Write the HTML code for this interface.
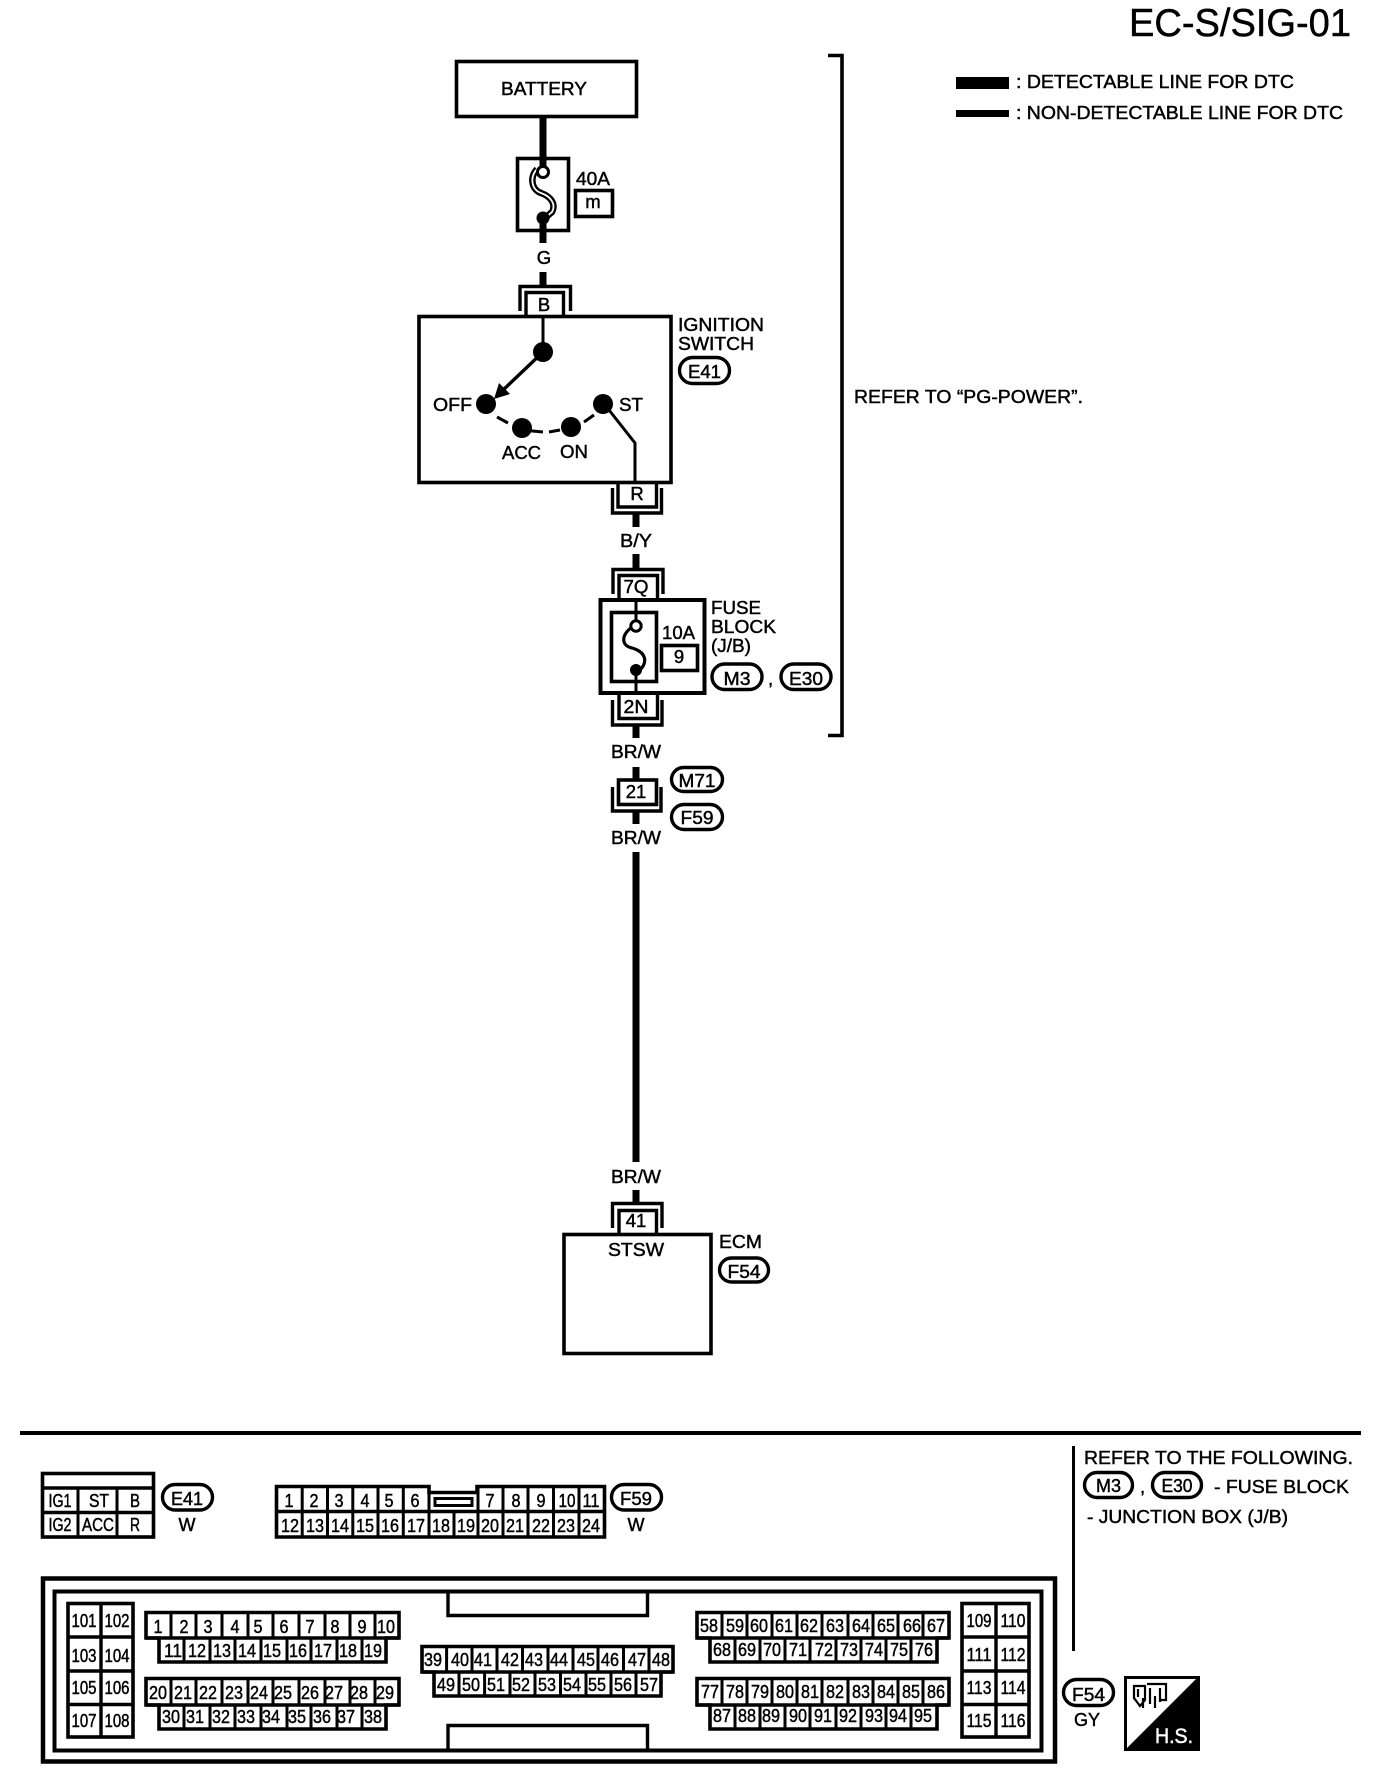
<!DOCTYPE html>
<html><head><meta charset="utf-8"><title>EC-S/SIG-01</title>
<style>
html,body{margin:0;padding:0;background:#fff}
svg{display:block}
text{font-family:"Liberation Sans",Arial,sans-serif;fill:#000;stroke:#000;stroke-width:.45px}
.t{font-size:18.5px}
.m{font-size:18.5px;text-anchor:middle}
.n{font-size:18px;text-anchor:middle}
.s{fill:none;stroke:#000;stroke-width:3.6}
.w{fill:none;stroke:#000;stroke-width:7}
.c{fill:none;stroke:#000;stroke-width:3}
.g{fill:none;stroke:#000;stroke-width:3.4}
.p{fill:#fff;stroke:#000;stroke-width:3.4}
.v{fill:none;stroke:#000;stroke-width:3}
</style></head><body>
<svg width="1392" height="1784" viewBox="0 0 1392 1784" xmlns="http://www.w3.org/2000/svg">
<rect width="1392" height="1784" fill="#fff"/>

<!-- title and legend -->
<text x="1129" y="36" font-size="38.5" textLength="222" lengthAdjust="spacingAndGlyphs">EC-S/SIG-01</text>
<rect x="956" y="77" width="53" height="12" fill="#000"/>
<rect x="956" y="110" width="53" height="7" fill="#000"/>
<text class="t" x="1016" y="88" textLength="278" lengthAdjust="spacingAndGlyphs">: DETECTABLE LINE FOR DTC</text>
<text class="t" x="1016" y="119" textLength="327" lengthAdjust="spacingAndGlyphs">: NON-DETECTABLE LINE FOR DTC</text>

<!-- bracket -->
<path class="s" d="M828,55.500H842V735.500H828"/>
<text class="t" x="854" y="403" textLength="229" lengthAdjust="spacingAndGlyphs">REFER TO “PG-POWER”.</text>

<!-- battery -->
<rect class="s" x="456.500" y="61.500" width="180" height="55"/>
<text class="m" x="544" y="95" textLength="86" lengthAdjust="spacingAndGlyphs">BATTERY</text>
<path class="w" d="M543,117V166M543,222V243M543,272V285"/>

<!-- fuse 40A -->
<rect class="s" x="517.500" y="158.500" width="51" height="72"/>
<path d="M537,169C529,178 532,190 541,193C552,197 556,205 552,212L545,218" fill="none" stroke="#000" stroke-width="6.500"/>
<path d="M537,169C529,178 532,190 541,193C552,197 556,205 552,212L545,218" fill="none" stroke="#fff" stroke-width="1.800"/>
<circle cx="543" cy="172" r="5.500" fill="#fff" stroke="#000" stroke-width="3"/>
<circle cx="543" cy="218" r="6.500" fill="#000"/>
<text class="t" x="576" y="185" textLength="34" lengthAdjust="spacingAndGlyphs">40A</text>
<rect class="s" x="575.500" y="190.500" width="37" height="26"/>
<text class="m" x="593" y="208">m</text>
<text class="m" x="544" y="264">G</text>

<!-- connector B -->
<path class="g" d="M520,311V286.500H570.500V311"/>
<path class="g" d="M526,316V292.500H563.500V316"/>
<text class="m" x="544" y="311">B</text>

<!-- ignition switch -->
<rect class="s" x="419" y="316.500" width="252" height="166"/>
<path class="c" d="M543,316V352"/>
<path d="M543,352L502,391" stroke="#000" stroke-width="3.400"/>
<polygon points="494,399 499,383 510,394" fill="#000"/>
<circle cx="543" cy="352" r="10" fill="#000"/>
<circle cx="486" cy="404" r="10" fill="#000"/>
<circle cx="522" cy="428" r="10" fill="#000"/>
<circle cx="571" cy="427" r="10" fill="#000"/>
<circle cx="603" cy="404" r="10" fill="#000"/>
<path d="M497,417L508,423M522,430L543,432M549,432L560,430M584,422L594,415" stroke="#000" stroke-width="3" fill="none"/>
<path class="c" d="M609,410L635,443V483"/>
<text class="t" x="433" y="411" textLength="39" lengthAdjust="spacingAndGlyphs">OFF</text>
<text class="t" x="619" y="411" textLength="24" lengthAdjust="spacingAndGlyphs">ST</text>
<text class="t" x="502" y="459" textLength="39" lengthAdjust="spacingAndGlyphs">ACC</text>
<text class="t" x="560" y="458" textLength="28" lengthAdjust="spacingAndGlyphs">ON</text>
<text class="t" x="678" y="331" textLength="86" lengthAdjust="spacingAndGlyphs">IGNITION</text>
<text class="t" x="678" y="350" textLength="76" lengthAdjust="spacingAndGlyphs">SWITCH</text>
<rect class="p" x="679.500" y="357.500" width="50" height="26" rx="13"/>
<text class="m" x="704.500" y="378" textLength="33" lengthAdjust="spacingAndGlyphs">E41</text>

<!-- connector R -->
<path class="g" d="M618,483V507H656.500V483"/>
<path class="g" d="M612.500,488V513H661.500V488"/>
<text class="m" x="637" y="500">R</text>
<path class="w" d="M636,514V527M636,554V568"/>
<text class="m" x="636" y="547" textLength="32" lengthAdjust="spacingAndGlyphs">B/Y</text>

<!-- 7Q connector -->
<path class="g" d="M613,594V569.500H663V594"/>
<path class="g" d="M619,599V575.500H657.500V599"/>
<text class="m" x="636" y="593" textLength="25" lengthAdjust="spacingAndGlyphs">7Q</text>

<!-- fuse block -->
<rect x="600.500" y="600" width="104" height="93" fill="none" stroke="#000" stroke-width="4"/>
<rect class="s" x="611.500" y="612.500" width="45" height="69"/>
<path class="c" d="M636,599V621M636,670V694"/>
<path d="M632,627C620,636 622,646 632,648C646,652 648,662 640,670" fill="none" stroke="#000" stroke-width="3.200"/>
<circle cx="636" cy="626" r="5.200" fill="#fff" stroke="#000" stroke-width="3"/>
<circle cx="636" cy="670" r="6" fill="#000"/>
<text class="t" x="662" y="639" textLength="33" lengthAdjust="spacingAndGlyphs">10A</text>
<rect class="s" x="661.500" y="645.500" width="36" height="25"/>
<text class="m" x="679" y="663">9</text>
<text class="t" x="711" y="614" textLength="50" lengthAdjust="spacingAndGlyphs">FUSE</text>
<text class="t" x="711" y="633" textLength="65" lengthAdjust="spacingAndGlyphs">BLOCK</text>
<text class="t" x="711" y="652" textLength="40" lengthAdjust="spacingAndGlyphs">(J/B)</text>
<rect class="p" x="712" y="664" width="50" height="25.500" rx="12.700"/>
<text class="m" x="737" y="685" textLength="27" lengthAdjust="spacingAndGlyphs">M3</text>
<text class="t" x="768" y="685">,</text>
<rect class="p" x="781" y="664" width="50" height="25.500" rx="12.700"/>
<text class="m" x="806" y="685" textLength="34" lengthAdjust="spacingAndGlyphs">E30</text>

<!-- 2N connector -->
<path class="g" d="M619,694V718.500H657.500V694"/>
<path class="g" d="M612.500,700V725H662V700"/>
<text class="m" x="636" y="713" textLength="25" lengthAdjust="spacingAndGlyphs">2N</text>
<path class="w" d="M636,726V738M636,767V779"/>
<text class="m" x="636" y="758" textLength="50" lengthAdjust="spacingAndGlyphs">BR/W</text>

<!-- connector 21 -->
<rect class="s" x="618.500" y="780" width="38" height="24.500"/>
<path class="g" d="M612.500,787V811H661V787"/>
<text class="m" x="636" y="798">21</text>
<path class="w" d="M636,812V824M636,852V1162M636,1190V1202"/>
<rect class="p" x="671.500" y="767.500" width="51" height="24" rx="12"/>
<text class="m" x="697" y="787" textLength="37" lengthAdjust="spacingAndGlyphs">M71</text>
<rect class="p" x="671.500" y="804.500" width="51" height="25" rx="12.500"/>
<text class="m" x="697" y="824" textLength="33" lengthAdjust="spacingAndGlyphs">F59</text>
<text class="m" x="636" y="844" textLength="50" lengthAdjust="spacingAndGlyphs">BR/W</text>
<text class="m" x="636" y="1183" textLength="50" lengthAdjust="spacingAndGlyphs">BR/W</text>

<!-- ECM -->
<path class="g" d="M612.500,1228V1203.500H662V1228"/>
<path class="g" d="M619,1234V1210.500H656.500V1234"/>
<text class="m" x="636" y="1227">41</text>
<rect class="s" x="564" y="1234.500" width="147" height="119"/>
<text class="m" x="636" y="1256" textLength="56" lengthAdjust="spacingAndGlyphs">STSW</text>
<text class="t" x="719" y="1248" textLength="43" lengthAdjust="spacingAndGlyphs">ECM</text>
<rect class="p" x="719.500" y="1258" width="49" height="24" rx="12"/>
<text class="m" x="744" y="1278" textLength="33" lengthAdjust="spacingAndGlyphs">F54</text>

<!-- separator -->
<rect x="20" y="1431" width="1341" height="4" fill="#000"/>

<!-- E41 connector -->
<rect class="s" x="42.500" y="1473.500" width="111" height="63.500"/>
<path class="g" d="M42,1488H154M42,1512.500H154"/>
<path class="v" d="M78,1488V1537M117,1488V1537"/>
<g>
<text class="n" x="60" y="1507" textLength="23" lengthAdjust="spacingAndGlyphs">IG1</text>
<text class="n" x="99" y="1507" textLength="20" lengthAdjust="spacingAndGlyphs">ST</text>
<text class="n" x="135" y="1507" textLength="10" lengthAdjust="spacingAndGlyphs">B</text>
<text class="n" x="60" y="1531" textLength="23" lengthAdjust="spacingAndGlyphs">IG2</text>
<text class="n" x="98" y="1531" textLength="32" lengthAdjust="spacingAndGlyphs">ACC</text>
<text class="n" x="135" y="1531" textLength="10" lengthAdjust="spacingAndGlyphs">R</text>
</g>
<rect class="p" x="162.500" y="1484.500" width="50" height="25.500" rx="12.700"/>
<text class="m" x="187" y="1505" textLength="32" lengthAdjust="spacingAndGlyphs">E41</text>
<text class="m" x="187" y="1531" textLength="17" lengthAdjust="spacingAndGlyphs">W</text>

<!-- F59 connector -->
<path class="s" d="M276.500,1486.500H429V1492.500H477V1486.500H604.500V1537H276.500Z"/>
<path class="g" d="M276,1511.500H605"/>
<rect x="435" y="1498.500" width="37" height="7" fill="none" stroke="#000" stroke-width="3"/>
<path class="v" d="M302.200,1486V1537M327.500,1486V1537M352.800,1486V1537M378,1486V1537M403.300,1486V1537M429,1486V1537M454,1511V1537M478,1486V1537M503,1486V1537M528,1486V1537M553.500,1486V1537M579,1486V1537"/>
<g>
<text class="n" x="289" y="1507" textLength="9" lengthAdjust="spacingAndGlyphs">1</text>
<text class="n" x="314" y="1507" textLength="9" lengthAdjust="spacingAndGlyphs">2</text>
<text class="n" x="339" y="1507" textLength="9" lengthAdjust="spacingAndGlyphs">3</text>
<text class="n" x="365" y="1507" textLength="9" lengthAdjust="spacingAndGlyphs">4</text>
<text class="n" x="389" y="1507" textLength="9" lengthAdjust="spacingAndGlyphs">5</text>
<text class="n" x="415" y="1507" textLength="9" lengthAdjust="spacingAndGlyphs">6</text>
<text class="n" x="490" y="1507" textLength="9" lengthAdjust="spacingAndGlyphs">7</text>
<text class="n" x="516" y="1507" textLength="9" lengthAdjust="spacingAndGlyphs">8</text>
<text class="n" x="541" y="1507" textLength="9" lengthAdjust="spacingAndGlyphs">9</text>
<text class="n" x="567" y="1507" textLength="17" lengthAdjust="spacingAndGlyphs">10</text>
<text class="n" x="591" y="1507" textLength="17" lengthAdjust="spacingAndGlyphs">11</text>
<text class="n" x="290" y="1532" textLength="18" lengthAdjust="spacingAndGlyphs">12</text>
<text class="n" x="315" y="1532" textLength="18" lengthAdjust="spacingAndGlyphs">13</text>
<text class="n" x="340" y="1532" textLength="18" lengthAdjust="spacingAndGlyphs">14</text>
<text class="n" x="365" y="1532" textLength="18" lengthAdjust="spacingAndGlyphs">15</text>
<text class="n" x="390" y="1532" textLength="18" lengthAdjust="spacingAndGlyphs">16</text>
<text class="n" x="416" y="1532" textLength="18" lengthAdjust="spacingAndGlyphs">17</text>
<text class="n" x="441" y="1532" textLength="18" lengthAdjust="spacingAndGlyphs">18</text>
<text class="n" x="466" y="1532" textLength="18" lengthAdjust="spacingAndGlyphs">19</text>
<text class="n" x="490" y="1532" textLength="18" lengthAdjust="spacingAndGlyphs">20</text>
<text class="n" x="515" y="1532" textLength="18" lengthAdjust="spacingAndGlyphs">21</text>
<text class="n" x="541" y="1532" textLength="18" lengthAdjust="spacingAndGlyphs">22</text>
<text class="n" x="566" y="1532" textLength="18" lengthAdjust="spacingAndGlyphs">23</text>
<text class="n" x="591" y="1532" textLength="18" lengthAdjust="spacingAndGlyphs">24</text>
</g>
<rect class="p" x="611.500" y="1484.500" width="50" height="25.500" rx="12.700"/>
<text class="m" x="636" y="1505" textLength="32" lengthAdjust="spacingAndGlyphs">F59</text>
<text class="m" x="636" y="1531" textLength="17" lengthAdjust="spacingAndGlyphs">W</text>

<!-- ECM connector -->
<rect x="43" y="1578.500" width="1012" height="183" fill="none" stroke="#000" stroke-width="4.500"/>
<rect x="54.500" y="1591.500" width="987" height="159" fill="none" stroke="#000" stroke-width="4"/>
<path class="g" d="M448,1591V1615.500H647.500V1591M448,1751V1725.500H647.500V1751"/>

<!-- block 101-108 -->
<rect class="s" x="68" y="1603.500" width="65" height="133.500"/>
<path class="g" d="M101,1603V1737M68,1637H133M68,1671H133M68,1704.500H133"/>
<g>
<text class="n" x="84" y="1627" textLength="25" lengthAdjust="spacingAndGlyphs">101</text>
<text class="n" x="117" y="1627" textLength="25" lengthAdjust="spacingAndGlyphs">102</text>
<text class="n" x="84" y="1662" textLength="25" lengthAdjust="spacingAndGlyphs">103</text>
<text class="n" x="117" y="1662" textLength="25" lengthAdjust="spacingAndGlyphs">104</text>
<text class="n" x="84" y="1694" textLength="25" lengthAdjust="spacingAndGlyphs">105</text>
<text class="n" x="117" y="1694" textLength="25" lengthAdjust="spacingAndGlyphs">106</text>
<text class="n" x="84" y="1727" textLength="25" lengthAdjust="spacingAndGlyphs">107</text>
<text class="n" x="117" y="1727" textLength="25" lengthAdjust="spacingAndGlyphs">108</text>
</g>

<!-- block 109-116 -->
<rect class="s" x="962" y="1603.500" width="67" height="133.500"/>
<path class="g" d="M996,1603V1737M962,1637H1029M962,1671H1029M962,1704.500H1029"/>
<g>
<text class="n" x="979" y="1627" textLength="25" lengthAdjust="spacingAndGlyphs">109</text>
<text class="n" x="1013" y="1627" textLength="25" lengthAdjust="spacingAndGlyphs">110</text>
<text class="n" x="979" y="1661" textLength="25" lengthAdjust="spacingAndGlyphs">111</text>
<text class="n" x="1013" y="1661" textLength="25" lengthAdjust="spacingAndGlyphs">112</text>
<text class="n" x="979" y="1694" textLength="25" lengthAdjust="spacingAndGlyphs">113</text>
<text class="n" x="1013" y="1694" textLength="25" lengthAdjust="spacingAndGlyphs">114</text>
<text class="n" x="979" y="1727" textLength="25" lengthAdjust="spacingAndGlyphs">115</text>
<text class="n" x="1013" y="1727" textLength="25" lengthAdjust="spacingAndGlyphs">116</text>
</g>

<!-- block 1-19 -->
<path class="s" d="M146,1612.500H399V1638H386V1662H159V1638H146Z"/>
<path class="g" d="M146,1638H399"/>
<path class="v" d="M171,1612V1638M196,1612V1638M222,1612V1638M248,1612V1638M273,1612V1638M299,1612V1638M325,1612V1638M350,1612V1638M375,1612V1638M184,1638V1662M210,1638V1662M235,1638V1662M261,1638V1662M287,1638V1662M311,1638V1662M337,1638V1662M362,1638V1662"/>
<g>
<text class="n" x="158" y="1633" textLength="9" lengthAdjust="spacingAndGlyphs">1</text>
<text class="n" x="184" y="1633" textLength="9" lengthAdjust="spacingAndGlyphs">2</text>
<text class="n" x="208" y="1633" textLength="9" lengthAdjust="spacingAndGlyphs">3</text>
<text class="n" x="235" y="1633" textLength="9" lengthAdjust="spacingAndGlyphs">4</text>
<text class="n" x="258" y="1633" textLength="9" lengthAdjust="spacingAndGlyphs">5</text>
<text class="n" x="284" y="1633" textLength="9" lengthAdjust="spacingAndGlyphs">6</text>
<text class="n" x="310" y="1633" textLength="9" lengthAdjust="spacingAndGlyphs">7</text>
<text class="n" x="335" y="1633" textLength="9" lengthAdjust="spacingAndGlyphs">8</text>
<text class="n" x="362" y="1633" textLength="9" lengthAdjust="spacingAndGlyphs">9</text>
<text class="n" x="386" y="1633" textLength="18" lengthAdjust="spacingAndGlyphs">10</text>
<text class="n" x="173" y="1657" textLength="18" lengthAdjust="spacingAndGlyphs">11</text>
<text class="n" x="197" y="1657" textLength="18" lengthAdjust="spacingAndGlyphs">12</text>
<text class="n" x="222" y="1657" textLength="18" lengthAdjust="spacingAndGlyphs">13</text>
<text class="n" x="247" y="1657" textLength="18" lengthAdjust="spacingAndGlyphs">14</text>
<text class="n" x="272" y="1657" textLength="18" lengthAdjust="spacingAndGlyphs">15</text>
<text class="n" x="298" y="1657" textLength="18" lengthAdjust="spacingAndGlyphs">16</text>
<text class="n" x="323" y="1657" textLength="18" lengthAdjust="spacingAndGlyphs">17</text>
<text class="n" x="348" y="1657" textLength="18" lengthAdjust="spacingAndGlyphs">18</text>
<text class="n" x="373" y="1657" textLength="18" lengthAdjust="spacingAndGlyphs">19</text>
</g>

<!-- block 20-38 -->
<path class="s" d="M146,1678.500H399V1705H386V1729H159V1705H146Z"/>
<path class="g" d="M146,1705H399"/>
<path class="v" d="M171,1678V1705M196,1678V1705M222,1678V1705M248,1678V1705M273,1678V1705M299,1678V1705M325,1678V1705M350,1678V1705M375,1678V1705M184,1705V1729M210,1705V1729M235,1705V1729M261,1705V1729M287,1705V1729M311,1705V1729M337,1705V1729M362,1705V1729"/>
<g>
<text class="n" x="158" y="1699" textLength="18" lengthAdjust="spacingAndGlyphs">20</text>
<text class="n" x="183" y="1699" textLength="18" lengthAdjust="spacingAndGlyphs">21</text>
<text class="n" x="208" y="1699" textLength="18" lengthAdjust="spacingAndGlyphs">22</text>
<text class="n" x="234" y="1699" textLength="18" lengthAdjust="spacingAndGlyphs">23</text>
<text class="n" x="259" y="1699" textLength="18" lengthAdjust="spacingAndGlyphs">24</text>
<text class="n" x="283" y="1699" textLength="18" lengthAdjust="spacingAndGlyphs">25</text>
<text class="n" x="310" y="1699" textLength="18" lengthAdjust="spacingAndGlyphs">26</text>
<text class="n" x="334" y="1699" textLength="18" lengthAdjust="spacingAndGlyphs">27</text>
<text class="n" x="359" y="1699" textLength="18" lengthAdjust="spacingAndGlyphs">28</text>
<text class="n" x="385" y="1699" textLength="18" lengthAdjust="spacingAndGlyphs">29</text>
<text class="n" x="171" y="1723" textLength="18" lengthAdjust="spacingAndGlyphs">30</text>
<text class="n" x="195" y="1723" textLength="18" lengthAdjust="spacingAndGlyphs">31</text>
<text class="n" x="221" y="1723" textLength="18" lengthAdjust="spacingAndGlyphs">32</text>
<text class="n" x="246" y="1723" textLength="18" lengthAdjust="spacingAndGlyphs">33</text>
<text class="n" x="271" y="1723" textLength="18" lengthAdjust="spacingAndGlyphs">34</text>
<text class="n" x="297" y="1723" textLength="18" lengthAdjust="spacingAndGlyphs">35</text>
<text class="n" x="322" y="1723" textLength="18" lengthAdjust="spacingAndGlyphs">36</text>
<text class="n" x="346" y="1723" textLength="18" lengthAdjust="spacingAndGlyphs">37</text>
<text class="n" x="373" y="1723" textLength="18" lengthAdjust="spacingAndGlyphs">38</text>
</g>

<!-- block 39-57 -->
<path class="s" d="M422,1646.500H673V1672H661V1696H434V1672H422Z"/>
<path class="g" d="M422,1672H673"/>
<path class="v" d="M446.600,1646V1672M472,1646V1672M497,1646V1672M522.500,1646V1672M548,1646V1672M573,1646V1672M598,1646V1672M623.500,1646V1672M649,1646V1672M459,1672V1696M484.600,1672V1696M510,1672V1696M535,1672V1696M560.500,1672V1696M586,1672V1696M611,1672V1696M636,1672V1696"/>
<g>
<text class="n" x="433" y="1666" textLength="18" lengthAdjust="spacingAndGlyphs">39</text>
<text class="n" x="460" y="1666" textLength="18" lengthAdjust="spacingAndGlyphs">40</text>
<text class="n" x="483" y="1666" textLength="18" lengthAdjust="spacingAndGlyphs">41</text>
<text class="n" x="510" y="1666" textLength="18" lengthAdjust="spacingAndGlyphs">42</text>
<text class="n" x="534" y="1666" textLength="18" lengthAdjust="spacingAndGlyphs">43</text>
<text class="n" x="559" y="1666" textLength="18" lengthAdjust="spacingAndGlyphs">44</text>
<text class="n" x="586" y="1666" textLength="18" lengthAdjust="spacingAndGlyphs">45</text>
<text class="n" x="610" y="1666" textLength="18" lengthAdjust="spacingAndGlyphs">46</text>
<text class="n" x="637" y="1666" textLength="18" lengthAdjust="spacingAndGlyphs">47</text>
<text class="n" x="661" y="1666" textLength="18" lengthAdjust="spacingAndGlyphs">48</text>
<text class="n" x="446" y="1691" textLength="18" lengthAdjust="spacingAndGlyphs">49</text>
<text class="n" x="471" y="1691" textLength="18" lengthAdjust="spacingAndGlyphs">50</text>
<text class="n" x="496" y="1691" textLength="18" lengthAdjust="spacingAndGlyphs">51</text>
<text class="n" x="521" y="1691" textLength="18" lengthAdjust="spacingAndGlyphs">52</text>
<text class="n" x="547" y="1691" textLength="18" lengthAdjust="spacingAndGlyphs">53</text>
<text class="n" x="572" y="1691" textLength="18" lengthAdjust="spacingAndGlyphs">54</text>
<text class="n" x="597" y="1691" textLength="18" lengthAdjust="spacingAndGlyphs">55</text>
<text class="n" x="623" y="1691" textLength="18" lengthAdjust="spacingAndGlyphs">56</text>
<text class="n" x="649" y="1691" textLength="18" lengthAdjust="spacingAndGlyphs">57</text>
</g>

<!-- block 58-76 -->
<path class="s" d="M697,1612.500H949V1638H937V1662H710V1638H697Z"/>
<path class="g" d="M697,1638H949"/>
<path class="v" d="M722,1612V1638M747,1612V1638M772,1612V1638M797,1612V1638M822,1612V1638M848,1612V1638M873,1612V1638M898,1612V1638M923,1612V1638M735,1638V1662M760,1638V1662M785,1638V1662M810,1638V1662M836,1638V1662M861,1638V1662M886,1638V1662M911,1638V1662"/>
<g>
<text class="n" x="709" y="1632" textLength="18" lengthAdjust="spacingAndGlyphs">58</text>
<text class="n" x="735" y="1632" textLength="18" lengthAdjust="spacingAndGlyphs">59</text>
<text class="n" x="759" y="1632" textLength="18" lengthAdjust="spacingAndGlyphs">60</text>
<text class="n" x="784" y="1632" textLength="18" lengthAdjust="spacingAndGlyphs">61</text>
<text class="n" x="809" y="1632" textLength="18" lengthAdjust="spacingAndGlyphs">62</text>
<text class="n" x="835" y="1632" textLength="18" lengthAdjust="spacingAndGlyphs">63</text>
<text class="n" x="861" y="1632" textLength="18" lengthAdjust="spacingAndGlyphs">64</text>
<text class="n" x="886" y="1632" textLength="18" lengthAdjust="spacingAndGlyphs">65</text>
<text class="n" x="912" y="1632" textLength="18" lengthAdjust="spacingAndGlyphs">66</text>
<text class="n" x="936" y="1632" textLength="18" lengthAdjust="spacingAndGlyphs">67</text>
<text class="n" x="722" y="1656" textLength="18" lengthAdjust="spacingAndGlyphs">68</text>
<text class="n" x="747" y="1656" textLength="18" lengthAdjust="spacingAndGlyphs">69</text>
<text class="n" x="772" y="1656" textLength="18" lengthAdjust="spacingAndGlyphs">70</text>
<text class="n" x="798" y="1656" textLength="18" lengthAdjust="spacingAndGlyphs">71</text>
<text class="n" x="824" y="1656" textLength="18" lengthAdjust="spacingAndGlyphs">72</text>
<text class="n" x="849" y="1656" textLength="18" lengthAdjust="spacingAndGlyphs">73</text>
<text class="n" x="874" y="1656" textLength="18" lengthAdjust="spacingAndGlyphs">74</text>
<text class="n" x="899" y="1656" textLength="18" lengthAdjust="spacingAndGlyphs">75</text>
<text class="n" x="924" y="1656" textLength="18" lengthAdjust="spacingAndGlyphs">76</text>
</g>

<!-- block 77-95 -->
<path class="s" d="M697,1678.500H949V1705H937V1729H710V1705H697Z"/>
<path class="g" d="M697,1705H949"/>
<path class="v" d="M722,1678V1705M747,1678V1705M772,1678V1705M797,1678V1705M822,1678V1705M848,1678V1705M873,1678V1705M898,1678V1705M923,1678V1705M735,1705V1729M760,1705V1729M785,1705V1729M810,1705V1729M836,1705V1729M861,1705V1729M886,1705V1729M911,1705V1729"/>
<g>
<text class="n" x="710" y="1698" textLength="18" lengthAdjust="spacingAndGlyphs">77</text>
<text class="n" x="735" y="1698" textLength="18" lengthAdjust="spacingAndGlyphs">78</text>
<text class="n" x="760" y="1698" textLength="18" lengthAdjust="spacingAndGlyphs">79</text>
<text class="n" x="785" y="1698" textLength="18" lengthAdjust="spacingAndGlyphs">80</text>
<text class="n" x="810" y="1698" textLength="18" lengthAdjust="spacingAndGlyphs">81</text>
<text class="n" x="835" y="1698" textLength="18" lengthAdjust="spacingAndGlyphs">82</text>
<text class="n" x="861" y="1698" textLength="18" lengthAdjust="spacingAndGlyphs">83</text>
<text class="n" x="886" y="1698" textLength="18" lengthAdjust="spacingAndGlyphs">84</text>
<text class="n" x="911" y="1698" textLength="18" lengthAdjust="spacingAndGlyphs">85</text>
<text class="n" x="936" y="1698" textLength="18" lengthAdjust="spacingAndGlyphs">86</text>
<text class="n" x="722" y="1722" textLength="18" lengthAdjust="spacingAndGlyphs">87</text>
<text class="n" x="747" y="1722" textLength="18" lengthAdjust="spacingAndGlyphs">88</text>
<text class="n" x="771" y="1722" textLength="18" lengthAdjust="spacingAndGlyphs">89</text>
<text class="n" x="798" y="1722" textLength="18" lengthAdjust="spacingAndGlyphs">90</text>
<text class="n" x="823" y="1722" textLength="18" lengthAdjust="spacingAndGlyphs">91</text>
<text class="n" x="848" y="1722" textLength="18" lengthAdjust="spacingAndGlyphs">92</text>
<text class="n" x="874" y="1722" textLength="18" lengthAdjust="spacingAndGlyphs">93</text>
<text class="n" x="898" y="1722" textLength="18" lengthAdjust="spacingAndGlyphs">94</text>
<text class="n" x="923" y="1722" textLength="18" lengthAdjust="spacingAndGlyphs">95</text>
</g>

<!-- refer to the following -->
<rect x="1072" y="1446" width="3" height="205" fill="#000"/>
<text class="t" x="1084" y="1464" textLength="269" lengthAdjust="spacingAndGlyphs">REFER TO THE FOLLOWING.</text>
<rect class="p" x="1084.500" y="1472.500" width="48" height="25" rx="12.500"/>
<text class="m" x="1108.500" y="1492" textLength="25" lengthAdjust="spacingAndGlyphs">M3</text>
<text class="t" x="1140" y="1493">,</text>
<rect class="p" x="1152.500" y="1472.500" width="49" height="25" rx="12.500"/>
<text class="m" x="1177" y="1492" textLength="31" lengthAdjust="spacingAndGlyphs">E30</text>
<text class="t" x="1214" y="1493" textLength="135" lengthAdjust="spacingAndGlyphs">- FUSE BLOCK</text>
<text class="t" x="1087" y="1523" textLength="201" lengthAdjust="spacingAndGlyphs">- JUNCTION BOX (J/B)</text>

<!-- F54 + HS icon -->
<rect class="p" x="1063.500" y="1679.500" width="50" height="26" rx="13"/>
<text class="m" x="1088.500" y="1701" textLength="33" lengthAdjust="spacingAndGlyphs">F54</text>
<text class="m" x="1087" y="1726" textLength="26" lengthAdjust="spacingAndGlyphs">GY</text>
<rect x="1124" y="1676" width="76" height="75" fill="#000"/>
<polygon points="1127,1679 1196,1679 1127,1748" fill="#fff"/>
<path d="M1134,1686H1145V1700L1140,1706L1134,1698ZM1147,1684H1166V1700H1160M1138,1689V1697M1143,1698V1708M1150,1688V1704M1155,1696V1708M1160,1688V1702" fill="none" stroke="#000" stroke-width="2.200"/>
<text x="1155" y="1743" font-size="21" textLength="38" lengthAdjust="spacingAndGlyphs" style="fill:#fff;stroke:#fff;stroke-width:.5px">H.S.</text>
</svg>
</body></html>
